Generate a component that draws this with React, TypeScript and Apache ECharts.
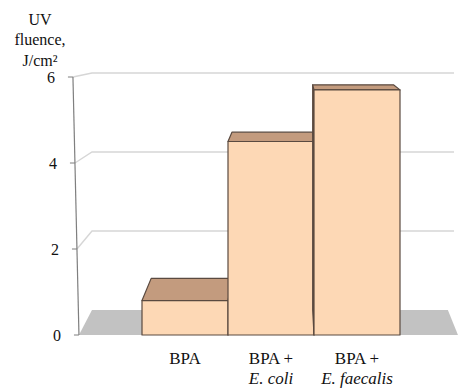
import React, { useEffect, useRef } from "react";
import * as echarts from "echarts";

// ---- data ----
const labelLine1 = ["BPA", "BPA +", "BPA +"];
const labelLine2 = ["", "E. coli", "E. faecalis"];
const values = [0.8, 4.5, 5.7];
const yTicks = [0, 2, 4, 6];
const gridValues = [2, 4, 6];
const titleLines = ["UV", "fluence,", "J/cm\u00B2"];

// ---- style / perspective constants ----
const SERIF = "'Liberation Serif', 'Times New Roman', serif";
const KX = 0.939;
const KY = 0.9186;
const FLOOR_LEFT = 0.733; // in band widths beyond first bar
const FLOOR_RIGHT = 0.674;
const WALL_RIGHT = 0.75;
const AXIS_SLANT = 0.07; // band widths the axis leans left at the top
const Y_MAX = 6;

function perspective(api: any) {
  const w = api.size([1, 0])[0];
  const vx = api.coord([1, 0])[0] + 0.25 * w;
  const vy = api.coord([0, 7.15])[1];
  const proj = (x: number, y: number) => [vx + (x - vx) * KX, vy + (y - vy) * KY];
  const c0 = api.coord([0, 0]);
  const floorLeft = c0[0] - w / 2 - FLOOR_LEFT * w;
  const axisX = (v: number) => floorLeft - (v / Y_MAX) * AXIS_SLANT * w;
  return { w, proj, floorLeft, axisX };
}

export default function App() {
  const ref = useRef<HTMLDivElement>(null);
  useEffect(() => {
    if (!ref.current) return;
    const chart = echarts.init(ref.current, undefined, { renderer: "svg" });
    const n = values.length;
    chart.setOption({
      animation: false,
      grid: { left: 142, right: 59, top: 77, bottom: 53, containLabel: false },
      xAxis: {
        type: "category",
        data: labelLine1.map((l, i) => l + "|" + labelLine2[i]),
        axisLine: { show: false },
        axisTick: { show: false },
        axisLabel: {
          margin: 13,
          interval: 0,
          formatter: (v: string) => {
            const [a, b] = v.split("|");
            return b ? `{a|${a}}\n{i|${b}}` : `{a|${a}}`;
          },
          rich: {
            a: { fontFamily: SERIF, fontSize: 17, color: "#111", lineHeight: 20 },
            i: { fontFamily: SERIF, fontSize: 17, color: "#111", fontStyle: "italic", lineHeight: 20 },
          },
        },
      },
      yAxis: {
        type: "value",
        min: 0,
        max: Y_MAX,
        interval: 2,
        axisLine: { show: false },
        axisTick: { show: false },
        axisLabel: { show: false },
        splitLine: { show: false },
      },
      graphic: [
        {
          type: "text",
          x: 40,
          y: 9,
          style: {
            text: titleLines.join("\n"),
            fontFamily: SERIF,
            fontSize: 16,
            lineHeight: 20.5,
            fill: "#111",
            align: "center",
            verticalAlign: "top",
          },
        },
      ],
      series: [
        {
          // back-wall gridlines
          type: "custom",
          clip: false,
          z: 1,
          data: gridValues.map((v) => [0, v]),
          renderItem: (params: any, api: any) => {
            const { w, proj, floorLeft, axisX } = perspective(api);
            const v = api.value(1);
            const c0 = api.coord([0, v]);
            const cl = api.coord([n - 1, v]);
            const yF = c0[1];
            const bl = proj(floorLeft, yF);
            const br = proj(cl[0] + w / 2 + WALL_RIGHT * w, yF);
            return {
              type: "polyline",
              shape: { points: [[axisX(v), yF], bl, [br[0], bl[1]]] },
              style: { stroke: "#d6d6d6", lineWidth: 1.4, fill: null },
            };
          },
        },
        {
          // floor
          type: "custom",
          clip: false,
          z: 2,
          data: [[0, 0]],
          renderItem: (params: any, api: any) => {
            const { w, proj, floorLeft } = perspective(api);
            const c0 = api.coord([0, 0]);
            const cl = api.coord([n - 1, 0]);
            const xr = cl[0] + w / 2 + FLOOR_RIGHT * w;
            const y = c0[1];
            return {
              type: "polygon",
              shape: { points: [[floorLeft, y], [xr, y], proj(xr, y), proj(floorLeft, y)] },
              style: { fill: "#c2c2c2" },
            };
          },
        },
        {
          // slanted value axis: line, ticks, labels
          type: "custom",
          clip: false,
          z: 4,
          data: yTicks.map((v) => [0, v]),
          renderItem: (params: any, api: any) => {
            const { axisX } = perspective(api);
            const v = api.value(1);
            const y = api.coord([0, v])[1];
            const x = axisX(v);
            const children: any[] = [
              {
                type: "line",
                shape: { x1: x - 5, y1: y, x2: x, y2: y },
                style: { stroke: "#7f7f7f", lineWidth: 1 },
              },
              {
                type: "text",
                x: x - 18,
                y: y,
                style: {
                  text: String(v),
                  fontFamily: SERIF,
                  fontSize: 16,
                  lineHeight: 14,
                  fill: "#111",
                  align: "right",
                  verticalAlign: "middle",
                },
              },
            ];
            if (params.dataIndex === 0) {
              const yTop = api.coord([0, Y_MAX])[1];
              children.push({
                type: "line",
                shape: { x1: x, y1: y, x2: axisX(Y_MAX), y2: yTop },
                style: { stroke: "#7f7f7f", lineWidth: 1.2 },
              });
            }
            return { type: "group", children };
          },
        },
        {
          // 3D bars
          type: "custom",
          clip: false,
          z: 3,
          data: values.map((v, i) => [i, v]),
          renderItem: (params: any, api: any) => {
            const { w, proj } = perspective(api);
            const i = api.value(0);
            const top = api.coord([i, api.value(1)]);
            const base = api.coord([i, 0]);
            const x0 = top[0] - w / 2;
            const x1 = top[0] + w / 2;
            const yT = top[1];
            const yB = base[1];
            const edge = { stroke: "#5a4a40", lineWidth: 1.2, lineJoin: "round" };
            const children: any[] = [];
            const pL = proj(x0, yT);
            const pR = proj(x1, yT);
            if (pL[0] < x0) {
              children.push({
                type: "polygon",
                shape: { points: [[x0, yT], pL, proj(x0, yB), [x0, yB]] },
                style: { fill: "#7a6151", ...edge },
              });
            }
            if (pR[0] > x1) {
              children.push({
                type: "polygon",
                shape: { points: [[x1, yT], pR, proj(x1, yB), [x1, yB]] },
                style: { fill: "#a78468", ...edge },
              });
            }
            children.push({
              type: "polygon",
              shape: { points: [[x0, yT], [x1, yT], pR, pL] },
              style: { fill: "#c39b7e", ...edge },
            });
            children.push({
              type: "polygon",
              shape: { points: [[x0, yT], [x1, yT], [x1, yB], [x0, yB]] },
              style: { fill: "#fdd8b5", ...edge },
            });
            return { type: "group", children };
          },
        },
      ],
    });
    return () => chart.dispose();
  }, []);
  return (
    <div
      ref={ref}
      style={{ position: "absolute", left: 0, top: 0, width: 459, height: 388 }}
    />
  );
}
